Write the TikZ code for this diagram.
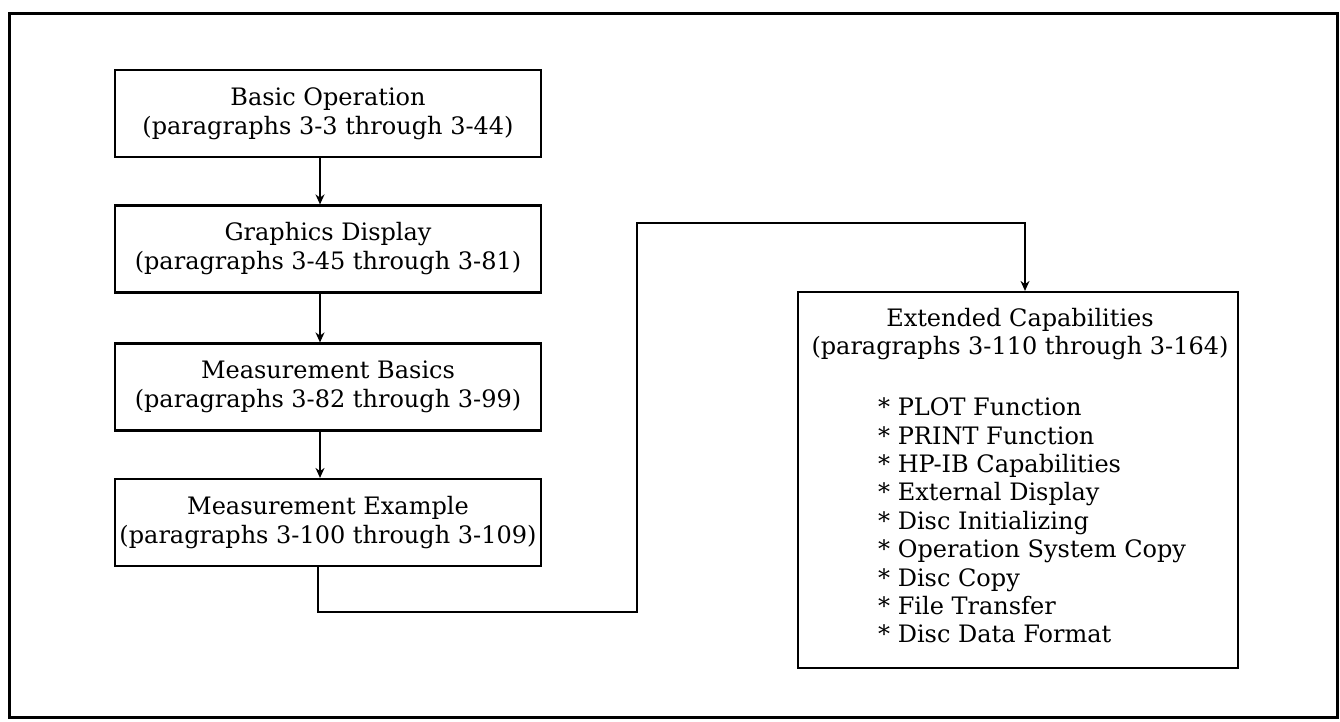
\documentclass[tikz,border=0pt]{standalone}
\usepackage{fontspec}
\setmainfont{DejaVu Serif}
\usetikzlibrary{arrows.meta}
\begin{document}
\begin{tikzpicture}[x=1pt,y=-1pt,
  box/.style={draw, line width=2.2pt, minimum width=426pt, minimum height=87pt, inner sep=0pt, align=center, font=\fontsize{24}{29}\selectfont},
  bigbox/.style={draw, line width=2.2pt, minimum width=440pt, minimum height=376pt, inner sep=0pt},
  conn/.style={line width=2.2pt, -{Stealth[length=10pt,width=9pt]}},
  txt/.style={font=\fontsize{24}{28.4}\selectfont, inner sep=0pt}]
\useasboundingbox (0,0) rectangle (1340,721);
\draw[line width=3pt] (9,13) rectangle (1337,717);

\node[box] (basic) at (328,113.5) {Basic Operation\\(paragraphs 3-3 through 3-44)};
\node[box] (graph) at (328,249) {Graphics Display\\(paragraphs 3-45 through 3-81)};
\node[box] (mbas) at (328,387) {Measurement Basics\\(paragraphs 3-82 through 3-99)};
\node[box] (mex) at (328,522.5) {Measurement Example\\(paragraphs 3-100 through 3-109)};

\node[bigbox] (ext) at (1018,480) {};
\node[txt, align=center] (exth) at (1020,334) {Extended Capabilities\\(paragraphs 3-110 through 3-164)};
\node[txt, align=left, anchor=west] (extl) at (878,520.5) {* PLOT Function\\* PRINT Function\\* HP-IB Capabilities\\* External Display\\* Disc Initializing\\* Operation System Copy\\* Disc Copy\\* File Transfer\\* Disc Data Format};

\coordinate (ax) at (320,0);
\draw[conn] (basic.south -| ax) -- (graph.north -| ax);
\draw[conn] (graph.south -| ax) -- (mbas.north -| ax);
\draw[conn] (mbas.south -| ax) -- (mex.north -| ax);

\coordinate (dropx) at (318,612);
\coordinate (turnA) at (637,612);
\coordinate (turnB) at (1025,223);
\draw[conn] (mex.south -| dropx) -- (dropx) -- (turnA) |- (turnB) -- (ext.north -| turnB);
\end{tikzpicture}
\end{document}
